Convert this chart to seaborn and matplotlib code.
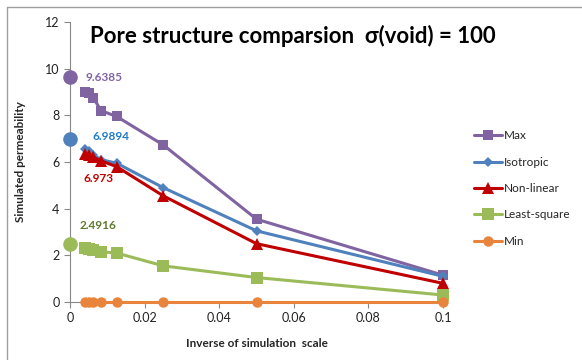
import pandas as pd
import matplotlib.pyplot as plt
import seaborn as sns
from matplotlib.lines import Line2D

# inverse of simulation scale
escala_inv = [0.004, 0.005, 0.00625, 0.00833, 0.0125, 0.025, 0.05, 0.1]

perm_max = [9.0, 8.95, 8.75, 8.2, 7.95, 6.73, 3.55, 1.15]
perm_iso = [6.55, 6.45, 6.3, 6.1, 5.95, 4.9, 3.05, 1.1]
perm_nonlin = [6.35, 6.3, 6.2, 6.05, 5.8, 4.55, 2.5, 0.8]
perm_lsq = [2.3, 2.28, 2.25, 2.15, 2.1, 1.55, 1.05, 0.3]
perm_min = [0, 0, 0, 0, 0, 0, 0, 0]

nomes = ['Max', 'Isotropic', 'Non-linear', 'Least-square', 'Min']

# extrapolated values at x = 0
extrap_nomes = ['Max', 'Isotropic', 'Non-linear', 'Least-square']
extrap_vals = [9.6385, 6.9894, 6.973, 2.4916]

cores = {
    'Max': '#8064A2',
    'Isotropic': '#4F81BD',
    'Non-linear': '#C00000',
    'Least-square': '#9BBB59',
    'Min': '#E8843C',
}
marcadores = {'Max': 's', 'Isotropic': 'D', 'Non-linear': '^', 'Least-square': 's', 'Min': 'o'}
tam_marc = {'Max': 7.5, 'Isotropic': 5, 'Non-linear': 8, 'Least-square': 8, 'Min': 7.5}
cores_rotulo = {'Max': '#8064A2', 'Isotropic': '#1F7AC8', 'Non-linear': '#C00000', 'Least-square': '#5F7A2E'}
desloc_rotulo = {'Max': (11, 0), 'Isotropic': (16, 2), 'Non-linear': (9.5, -28), 'Least-square': (7, 13)}

series = [perm_max, perm_iso, perm_nonlin, perm_lsq, perm_min]
df = pd.concat([pd.DataFrame({'x': escala_inv, 'y': v, 'serie': n}) for n, v in zip(nomes, series)])

sns.set_theme(style="white")
plt.rcParams['font.family'] = ['Lato', 'DejaVu Sans']

fig = plt.figure(figsize=(5.82, 3.6), dpi=100)
ax = fig.add_axes([0.1203, 0.161, 0.641, 0.778])

for nome in nomes:
    sub = df[df['serie'] == nome]
    sns.lineplot(data=sub, x='x', y='y', ax=ax, color=cores[nome], marker=marcadores[nome],
                 markersize=tam_marc[nome], markeredgewidth=0, linewidth=2.2,
                 label=nome, zorder=3, clip_on=False)

for nome, val in zip(extrap_nomes, extrap_vals):
    if nome != 'Non-linear':
        ax.plot(0, val, 'o', color=cores[nome], markersize=10.5, markeredgewidth=0, zorder=4, clip_on=False)
    ax.annotate(f'{val:g}', xy=(0, val), xytext=desloc_rotulo[nome], textcoords='offset points',
                ha='left', va='center', fontsize=8.5, fontweight='bold', color=cores_rotulo[nome])

ax.set_xlim(0, 0.1)
ax.set_ylim(0, 12)
ax.set_xticks([0, 0.02, 0.04, 0.06, 0.08, 0.1])
ax.set_xticklabels(['0', '0.02', '0.04', '0.06', '0.08', '0.1'])
ax.set_yticks(range(0, 13, 2))
ax.tick_params(axis='both', labelsize=9, colors='#222222', length=4, width=0.8, direction='out',
               bottom=True, left=True)
ax.tick_params(axis='both', color='#888888')
for lado in ['top', 'right']:
    ax.spines[lado].set_visible(False)
for lado in ['left', 'bottom']:
    ax.spines[lado].set_color('#888888')
    ax.spines[lado].set_linewidth(0.8)

ax.set_xlabel('Inverse of simulation  scale', fontsize=8.5, fontweight='bold', labelpad=10)
ax.set_ylabel('Simulated permeability', fontsize=8.5, fontweight='bold', labelpad=14)

ax.text(0.054, 0.99, 'Pore structure comparsion  σ(void) = 100', transform=ax.transAxes,
        fontsize=16, fontweight='bold', color='black', ha='left', va='top')

ax.legend(loc='upper left', bbox_to_anchor=(1.07, 0.63), frameon=False, fontsize=8.5,
          handlelength=2.4, handletextpad=0.1, labelspacing=1.3, borderaxespad=0)

# moldura do chart area (cortada)
fig.add_artist(Line2D([7 / 582, 1], [1 - 7 / 360, 1 - 7 / 360], color='#A0A0A0', linewidth=1))
fig.add_artist(Line2D([7 / 582, 7 / 582], [0, 1 - 7 / 360], color='#A0A0A0', linewidth=1))

fig.savefig('out.png', dpi=100)
